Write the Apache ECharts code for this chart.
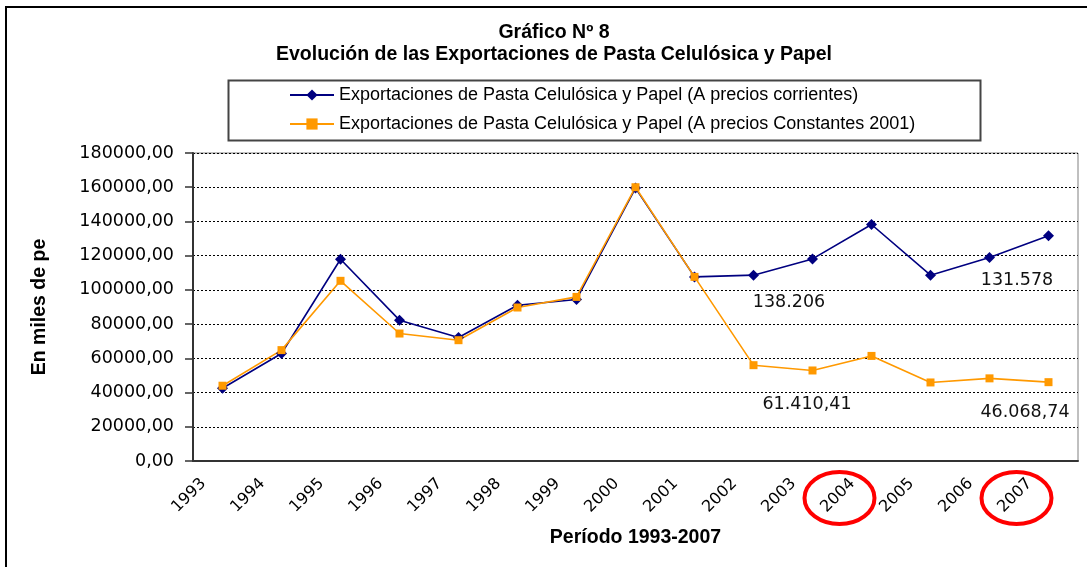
<!DOCTYPE html>
<html>
<head>
<meta charset="utf-8">
<title>Gráfico Nº 8</title>
<script src="https://cdn.jsdelivr.net/npm/echarts@6.0.0/dist/echarts.min.js"></script>
<style>
    html, body { margin: 0; padding: 0; background: #fff; }
    #main { width: 1087px; height: 567px; }
</style>
</head>
<body>
<div id="main"></div>
<script>
// datos (miles de pesos)
var anios = ['1993', '1994', '1995', '1996', '1997', '1998', '1999', '2000',
             '2001', '2002', '2003', '2004', '2005', '2006', '2007'];
var corrientes = [42500, 62800, 117900, 82300, 72200, 91000, 94400, 159500,
                  107600, 108600, 118100, 138206, 108600, 118900, 131578];
var constantes = [44000, 64800, 105300, 74500, 70600, 89700, 95900, 160000,
                  107600, 56000, 52900, 61410.41, 45900, 48300, 46068.74];
var serieNombres = ['Exportaciones de Pasta Celulósica y Papel (A precios corrientes)',
                    'Exportaciones de Pasta Celulósica y Papel (A precios Constantes 2001)'];
// anios marcados con circulo rojo y anotados
var aniosMarcados = ['2004', '2007'];

// formato es: 138.206 / 61.410,41
function formatoEs(v, dec) {
    var partes = v.toFixed(dec).split('.');
    var ent = partes[0].replace(/\B(?=(\d{3})+(?!\d))/g, '.');
    return dec > 0 ? ent + ',' + partes[1] : ent;
}

var myChart = echarts.init(document.getElementById('main'));
var fuenteNum = '"DejaVu Sans", Verdana, sans-serif';
var fuenteTxt = '"Liberation Sans", Arial, sans-serif';

var option = {
    animation: false,
    title: {
        text: 'Gráfico Nº 8\nEvolución de las Exportaciones de Pasta Celulósica y Papel',
        left: 554,
        top: 22,
        padding: 0,
        textAlign: 'center',
        textStyle: {
            fontFamily: fuenteTxt,
            fontWeight: 'bold',
            fontSize: 19.5,
            lineHeight: 22,
            color: '#000'
        }
    },
    legend: {
        orient: 'vertical',
        left: 289,
        top: 85,
        padding: 0,
        itemWidth: 44,
        itemHeight: 14,
        itemGap: 9,
        selectedMode: false,
        textStyle: {
            fontFamily: fuenteTxt,
            fontSize: 18,
            lineHeight: 20,
            color: '#000'
        },
        data: serieNombres
    },
    grid: {
        left: 193,
        right: 9,
        top: 153,
        bottom: 106,
        show: true,
        borderColor: '#808080',
        borderWidth: 1
    },
    xAxis: {
        type: 'category',
        data: anios,
        boundaryGap: true,
        name: 'Período 1993-2007',
        nameLocation: 'middle',
        nameGap: 67,
        nameTextStyle: {
            fontFamily: fuenteTxt,
            fontWeight: 'bold',
            fontSize: 19.5,
            color: '#000'
        },
        axisLine: { lineStyle: { color: '#333', width: 2 } },
        axisTick: { length: 6, lineStyle: { color: '#333', width: 1.5 } },
        axisLabel: {
            rotate: 45,
            margin: 1,
            padding: [0, 27, 0, 0],
            interval: 0,
            fontFamily: fuenteNum,
            fontSize: 16,
            color: '#000'
        }
    },
    yAxis: {
        type: 'value',
        min: 0,
        max: 180000,
        interval: 20000,
        name: 'En miles de pesos',
        nameLocation: 'middle',
        nameRotate: 90,
        nameGap: 143,
        nameTruncate: { maxWidth: 142, ellipsis: '' },
        nameTextStyle: {
            fontFamily: fuenteTxt,
            fontWeight: 'bold',
            fontSize: 19.5,
            color: '#000'
        },
        axisLine: { show: true, lineStyle: { color: '#333', width: 2 } },
        axisTick: { show: true, length: 8, lineStyle: { color: '#333', width: 1.5 } },
        axisLabel: {
            margin: 19,
            fontFamily: fuenteNum,
            fontSize: 17.5,
            color: '#000',
            formatter: function (v) { return v.toFixed(2).replace('.', ','); }
        },
        splitLine: { lineStyle: { color: '#000', type: [2, 2], width: 1 } }
    },
    series: [
        {
            name: serieNombres[0],
            type: 'line',
            data: corrientes,
            symbol: 'diamond',
            symbolSize: 11,
            color: '#000080',
            lineStyle: { width: 1.6, color: '#000080' },
            itemStyle: { color: '#000080' }
        },
        {
            name: serieNombres[1],
            type: 'line',
            data: constantes,
            symbol: 'rect',
            symbolSize: 8,
            color: '#FF9900',
            lineStyle: { width: 1.6, color: '#FF9900' },
            itemStyle: { color: '#FF9900' }
        }
    ]
};

myChart.setOption(option);

// recuadros, anotaciones y circulos rojos
var graficos = [
    {
        type: 'rect', z: 0, silent: true,
        shape: { x: 6, y: 7, width: 1200, height: 700 },
        style: { fill: 'none', stroke: '#000', lineWidth: 2 }
    },
    {
        type: 'rect', z: 0, silent: true,
        shape: { x: 228.5, y: 80.5, width: 752, height: 60 },
        style: { fill: 'none', stroke: '#444', lineWidth: 2 }
    }
];
// posiciones de los textos anotados (centro)
var notaPos = [[789, 302], [1017, 280], [807, 404], [1025, 412]];
var k = 0;
for (var s = 0; s < 2; s++) {
    var serie = s == 0 ? corrientes : constantes;
    for (var j = 0; j < aniosMarcados.length; j++) {
        var v = serie[anios.indexOf(aniosMarcados[j])];
        graficos.push({
            type: 'text', z: 10, silent: true,
            x: notaPos[k][0], y: notaPos[k][1],
            style: {
                text: formatoEs(v, s == 0 ? 0 : 2),
                font: '17.5px ' + fuenteNum,
                fill: '#111',
                align: 'center',
                verticalAlign: 'middle'
            }
        });
        k++;
    }
}
for (var i = 0; i < aniosMarcados.length; i++) {
    var px = myChart.convertToPixel({ xAxisIndex: 0 }, aniosMarcados[i]);
    graficos.push({
        type: 'ellipse', z: 10, silent: true,
        shape: { cx: px - 32, cy: 498, rx: 35, ry: 26 },
        style: { fill: 'none', stroke: '#FF0000', lineWidth: 4 }
    });
}
myChart.setOption({ graphic: graficos });
</script>
</body>
</html>
